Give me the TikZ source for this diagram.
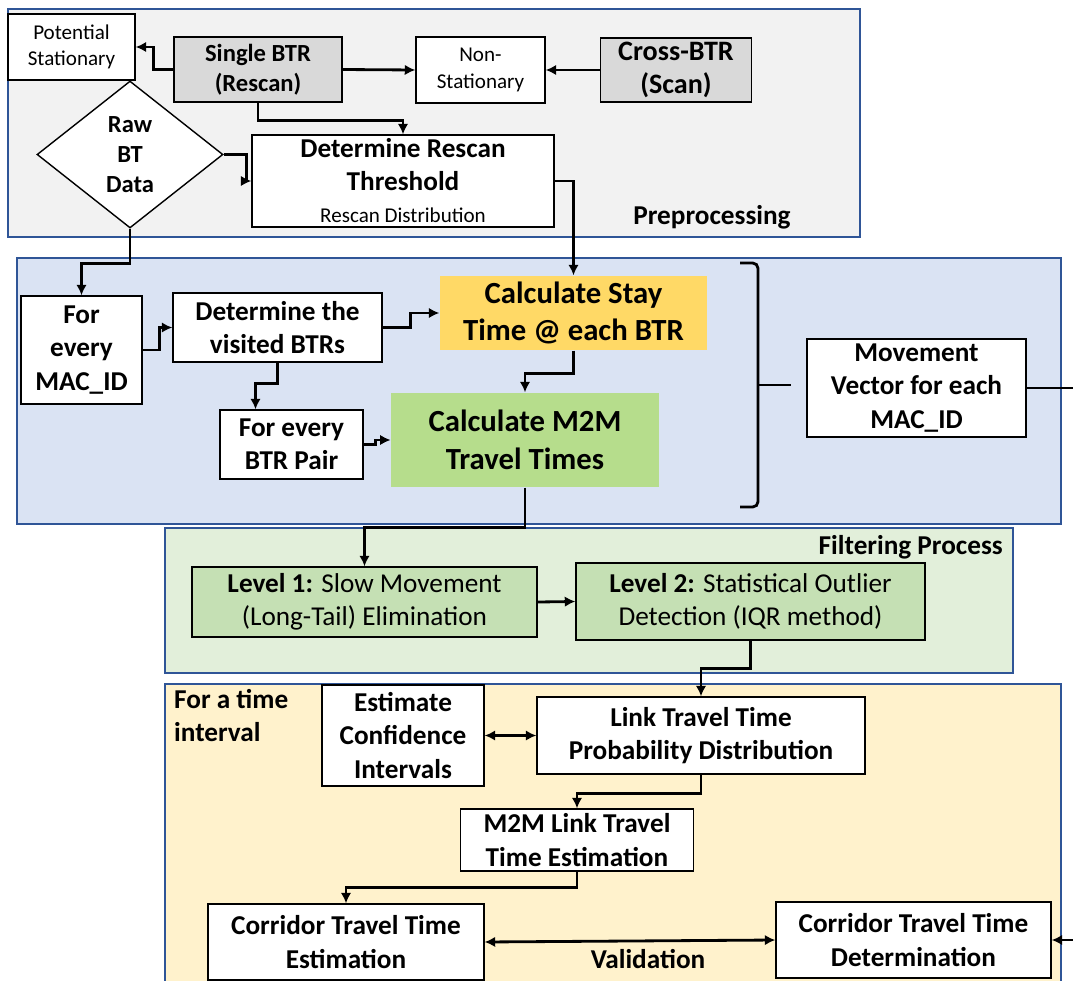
\documentclass[tikz,border=0pt]{standalone}
\usepackage{fontspec}
\setmainfont{Carlito}
\usetikzlibrary{shapes.geometric,arrows.meta}

\definecolor{secblue}{RGB}{47,85,151}
\definecolor{pregray}{RGB}{242,242,242}
\definecolor{btrgray}{RGB}{217,217,217}
\definecolor{idblue}{RGB}{218,227,243}
\definecolor{stayyellow}{RGB}{255,217,102}
\definecolor{mtmgreen}{RGB}{182,221,140}
\definecolor{filtgreen}{RGB}{226,239,218}
\definecolor{levgreen}{RGB}{197,224,180}
\definecolor{timeorange}{RGB}{255,242,204}

\tikzset{
  box/.style={draw, fill=white, line width=0.8pt, align=center, inner sep=1pt},
  btrbox/.style={box, fill=btrgray},
  sec/.style={draw=secblue, line width=0.9pt},
  conn/.style={line width=1.6pt, -{Latex[length=6pt,width=6pt]}},
  dbl/.style={line width=1.6pt, {Latex[length=6pt,width=6pt]}-{Latex[length=6pt,width=6pt]}},
  txt/.style={font=\fontsize{15.5}{19}\selectfont\bfseries},
  smalltxt/.style={font=\fontsize{12}{15}\selectfont},
}

\begin{document}
\begin{tikzpicture}[x=0.02cm, y=-0.02cm]
\clip (0,0) rectangle (1073,981);

% sections
\draw[sec, fill=pregray] (8,9) rectangle (860,237);
\draw[sec, fill=idblue] (17,258) rectangle (1061,524);
\draw[sec, fill=filtgreen] (165,528) rectangle (1013,673);
\draw[sec, fill=timeorange] (165,684) rectangle (1061,1000);

\node[txt] (preplbl) at (712,217) {Preprocessing};
\node[txt, anchor=east] (filtlbl) at (1009,547) {Filtering Process};
\node[txt, anchor=west, align=left] (timelbl) at (168,715.5) {For a time\\interval};

% preprocessing
\node[box, smalltxt, minimum width=2.54cm, minimum height=1.32cm] (pstat) at (71.5,47) {Potential\\Stationary};
\node[btrbox, font=\fontsize{14}{17}\selectfont\bfseries, minimum width=3.36cm, minimum height=1.3cm] (sbtr) at (258,69.5) {Single BTR\\(Rescan)};
\node[box, smalltxt, minimum width=2.58cm, minimum height=1.32cm] (nstat) at (480.5,70) {Non-\\Stationary};
\node[btrbox, font=\fontsize{16}{19}\selectfont\bfseries, minimum width=3.02cm, minimum height=1.28cm] (cbtr) at (676,70) {Cross-BTR\\(Scan)};
\node[diamond, draw, fill=white, line width=0.8pt, aspect=1.26, inner sep=0pt, align=center,
  font=\fontsize{14}{17}\selectfont\bfseries, minimum width=3.72cm, minimum height=2.94cm] (raw) at (130,154.5) {Raw\\BT\\Data};
\node[box, font=\fontsize{15.5}{18.5}\selectfont\bfseries, minimum width=6.04cm, minimum height=1.84cm] (rthr) at (403,181)
  {Determine Rescan\\Threshold\\{\fontsize{12}{14}\selectfont\mdseries Rescan Distribution}};

% per MAC_ID
\node[box, txt, minimum width=2.42cm, minimum height=2.16cm] (mac) at (81.5,350) {For\\every\\MAC\_ID};
\node[box, txt, minimum width=4.18cm, minimum height=1.38cm] (visit) at (277.5,327.5) {Determine the\\visited BTRs};
\node[box, draw=none, fill=stayyellow, font=\fontsize{17.5}{21}\selectfont\bfseries, minimum width=5.34cm, minimum height=1.48cm] (stay) at (573.5,313) {Calculate Stay\\Time @ each BTR};
\node[box, txt, minimum width=2.86cm, minimum height=1.38cm] (pair) at (291.5,444.5) {For every\\BTR Pair};
\node[box, draw=none, fill=mtmgreen, font=\fontsize{17.5}{21.5}\selectfont\bfseries, minimum width=5.35cm, minimum height=1.88cm] (mtm) at (525,440) {Calculate M2M\\Travel Times};
\node[box, txt, minimum width=4.38cm, minimum height=1.96cm] (mvec) at (916.5,388) {Movement\\Vector for each\\MAC\_ID};
\draw[line width=1.6pt, rounded corners=3pt] (740,263) -- (758,263) -- (758,507) -- (740,507);
\draw[line width=1.6pt] (758,385) -- (791,385);

% filtering
\node[box, fill=levgreen, font=\fontsize{15.5}{19}\selectfont, minimum width=6.9cm, minimum height=1.4cm] (lev1) at (364.5,602) {\textbf{Level 1:} Slow Movement\\(Long-Tail) Elimination};
\node[box, fill=levgreen, font=\fontsize{15.5}{19}\selectfont, minimum width=6.98cm, minimum height=1.54cm] (lev2) at (750.5,601.5) {\textbf{Level 2:} Statistical Outlier\\Detection (IQR method)};

% time interval
\node[box, txt, minimum width=3.24cm, minimum height=2.02cm] (conf) at (403,735.5) {Estimate\\Confidence\\Intervals};
\node[box, txt, minimum width=6.56cm, minimum height=1.54cm] (link) at (701,735.5) {Link Travel Time\\Probability Distribution};
\node[box, txt, minimum width=4.66cm, minimum height=1.24cm] (m2ml) at (577,840) {M2M Link Travel\\Time Estimation};
\node[box, txt, minimum width=5.52cm, minimum height=1.52cm] (cest) at (346,942) {Corridor Travel Time\\Estimation};
\node[box, txt, minimum width=5.5cm, minimum height=1.52cm] (cdet) at (913.5,940) {Corridor Travel Time\\Determination};
\node[txt] (valid) at (648,959) {Validation};

\coordinate (vedge) at (1073,388);
\coordinate (redge) at (1073,940);

% connectors
\draw[conn] (sbtr.west) -- ++(-20,0) |- (pstat.east);
\draw[conn] (sbtr.east) -- (nstat.west);
\draw[conn] (cbtr.west) -- (nstat.east);
\draw[conn] (sbtr.south) -- ++(0,18) -| (rthr.north);
\draw[conn] (raw.east) -- ++(23,0) |- (rthr.west);
\draw[conn] (rthr.east) -| (stay.north);
\draw[conn] (raw.south) -- ++(0,35) -| (mac.north);
\draw[conn] (mac.east) -- ++(17,0) |- (visit.west);
\draw[conn] (visit.east) -- ++(28,0) |- (stay.west);
\draw[conn] (visit.south) -- ++(0,21) -| ([xshift=-0.72cm]pair.north);
\draw[conn] (pair.east) -- ++(12,0) |- (mtm.west);
\draw[conn] (stay.south) -- ++(0,23) -| (mtm.north);
\draw[line width=1.6pt] (mvec.east) -- (vedge);
\draw[conn] (mtm.south) -- ++(0,40) -| (lev1.north);
\draw[conn] (lev1.east) -- (lev2.west);
\draw[conn] (lev2.south) -- ++(0,28) -| (link.north);
\draw[dbl] (conf.east) -- (link.west);
\draw[conn] (link.south) -- ++(0,19) -| (m2ml.north);
\draw[conn] (m2ml.south) -- ++(0,16) -| (cest.north);
\draw[dbl] (cest.east) -- (cdet.west);
\draw[conn] (redge) -- (cdet.east);
\end{tikzpicture}
\end{document}
